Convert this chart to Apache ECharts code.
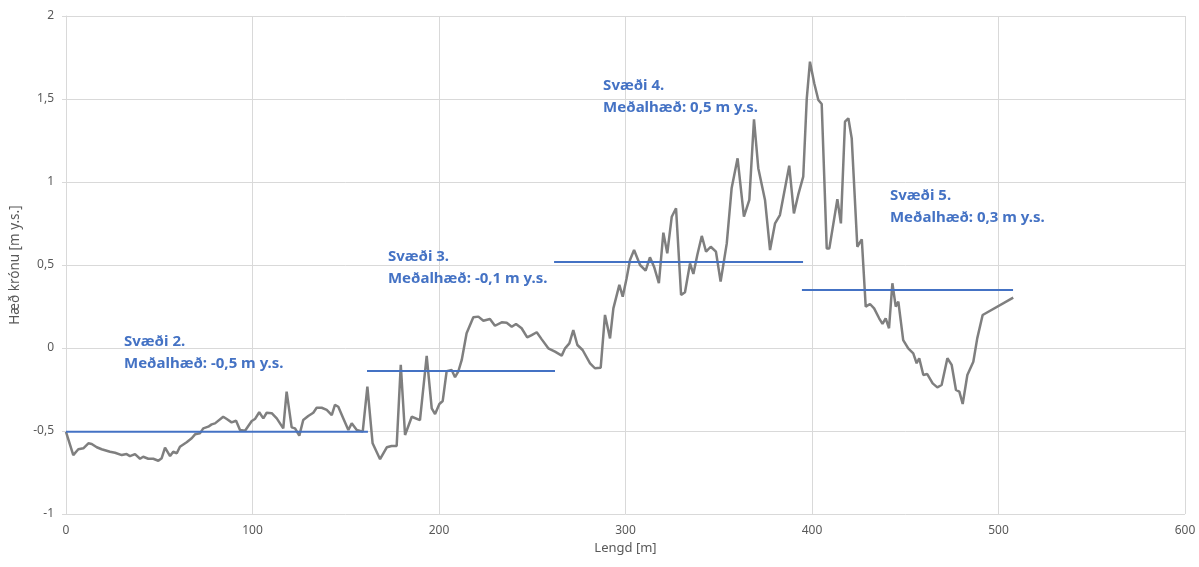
<!DOCTYPE html>
<html>
<head>
<meta charset="utf-8">
<script src="https://cdn.jsdelivr.net/npm/echarts@6/dist/echarts.min.js"></script>
<style>html,body{margin:0;padding:0;background:#fff}#c{width:1199px;height:567px}</style>
</head>
<body>
<div id="c"></div>
<script>
// Profile data: distance (m) and crown elevation (m y.s.)
const lengd = [0,3.9,6.6,9.3,12.0,13.8,16.5,19.1,23.6,26.3,29.9,32.5,34.3,37.0,39.7,41.4,44.1,46.8,49.5,51.3,53.1,55.8,57.5,59.4,61.1,64.7,67.4,69.2,71.8,73.6,76.3,78.1,79.9,84.3,86.2,88.8,91.2,93.3,96.0,99.6,101.3,103.6,105.8,107.6,110.3,113.0,116.5,118.3,121.0,122.8,125.1,127.2,129.9,132.6,134.4,137.1,139.8,142.5,144.2,146.0,148.7,151.4,153.2,155.9,159.1,161.6,164.4,168.4,172.0,174.6,177.3,179.5,181.8,185.4,189.8,193.4,196.1,197.9,200.2,202.0,204.1,206.8,208.6,210.3,212.2,214.8,218.4,221.1,223.8,227.3,230.0,233.6,236.3,239.0,241.3,244.3,247.3,249.7,252.4,255.1,258.6,262.2,265.8,267.6,269.9,272.0,274.2,277.0,281.0,283.6,286.7,289.0,291.7,293.5,296.7,298.5,300.6,302.4,304.6,307.8,310.8,313.1,315.3,317.9,320.3,322.4,324.8,327.1,329.8,331.9,334.6,336.4,338.5,340.9,343.2,345.7,348.5,351.0,354.3,356.9,360.1,363.5,366.4,368.9,371.2,374.8,377.5,380.2,382.8,387.8,390.3,392.6,395.3,397.2,398.9,401.2,403.4,405.2,407.9,409.3,413.6,415.5,417.7,419.5,421.3,424.3,426.7,428.8,431.1,433.3,436.0,437.8,439.5,441.3,443.1,444.9,446.3,448.9,451.6,454.3,456.1,457.5,459.7,461.8,464.7,467.2,469.5,472.6,474.9,477.2,479.0,480.8,483.3,486.5,488.6,491.5,507.9];
const haed = [-0.506,-0.645,-0.61,-0.604,-0.574,-0.578,-0.598,-0.61,-0.625,-0.631,-0.645,-0.639,-0.651,-0.639,-0.667,-0.655,-0.667,-0.667,-0.679,-0.664,-0.60,-0.651,-0.625,-0.634,-0.595,-0.568,-0.544,-0.52,-0.514,-0.484,-0.474,-0.46,-0.454,-0.414,-0.428,-0.448,-0.438,-0.494,-0.498,-0.44,-0.428,-0.387,-0.424,-0.39,-0.393,-0.424,-0.484,-0.263,-0.478,-0.484,-0.528,-0.434,-0.41,-0.39,-0.36,-0.36,-0.373,-0.404,-0.343,-0.354,-0.424,-0.494,-0.454,-0.494,-0.504,-0.233,-0.574,-0.67,-0.598,-0.59,-0.59,-0.102,-0.524,-0.414,-0.434,-0.048,-0.363,-0.398,-0.337,-0.319,-0.14,-0.133,-0.176,-0.143,-0.072,0.089,0.185,0.189,0.164,0.175,0.134,0.155,0.152,0.128,0.145,0.119,0.064,0.078,0.095,0.052,-0.002,-0.022,-0.046,-0.002,0.028,0.108,0.018,-0.012,-0.092,-0.122,-0.119,0.199,0.058,0.239,0.38,0.309,0.42,0.53,0.59,0.5,0.466,0.546,0.49,0.39,0.695,0.57,0.791,0.842,0.319,0.336,0.51,0.446,0.56,0.675,0.58,0.61,0.58,0.40,0.63,0.962,1.143,0.791,0.892,1.378,1.083,0.892,0.59,0.751,0.801,1.098,0.811,0.922,1.032,1.504,1.725,1.595,1.494,1.47,0.60,0.60,0.896,0.751,1.363,1.384,1.263,0.61,0.655,0.249,0.265,0.239,0.179,0.145,0.179,0.119,0.39,0.249,0.279,0.048,-0.002,-0.032,-0.092,-0.062,-0.163,-0.157,-0.213,-0.237,-0.223,-0.062,-0.102,-0.253,-0.263,-0.337,-0.163,-0.083,0.058,0.199,0.303];

// Zones (Svæði) with mean elevation lines
const svaediNafn = ['Svæði 2.', 'Svæði 3.', 'Svæði 4.', 'Svæði 5.'];
const svaediTexti = ['Meðalhæð: -0,5 m y.s.', 'Meðalhæð: -0,1 m y.s.', 'Meðalhæð: 0,5 m y.s.', 'Meðalhæð: 0,3 m y.s.'];
const svaediByrjun = [0, 161.4, 261.7, 394.6];
const svaediEndir = [161.9, 262.2, 395.2, 507.8];
const svaediMedal = [-0.505, -0.139, 0.518, 0.349];

// Tick values
const xTicks = [0, 100, 200, 300, 400, 500, 600];
const yTicks = [-1, -0.5, 0, 0.5, 1, 1.5, 2];

// Annotation anchor positions (layout, in data units)
const labelAnchorX = [31.1, 172.6, 288.0, 441.8];
const labelAnchorY = [-0.027, 0.482, 1.512, 0.849];

const BLUE = '#4472C4';
const FONT = 'Noto Sans';

const series = [{
  type: 'line',
  data: lengd.map((x, i) => [x, haed[i]]),
  showSymbol: false,
  lineStyle: { color: '#7f7f7f', width: 2.5 },
  z: 2,
  silent: true
}];
svaediNafn.forEach((n, i) => {
  series.push({
    type: 'line',
    data: [[svaediByrjun[i], svaediMedal[i]], [svaediEndir[i], svaediMedal[i]]],
    showSymbol: false,
    lineStyle: { color: BLUE, width: 2 },
    z: 3,
    silent: true
  });
  series.push({
    type: 'scatter',
    data: [[labelAnchorX[i], labelAnchorY[i]]],
    symbolSize: 0,
    silent: true,
    itemStyle: { color: BLUE, opacity: 1 },
    label: {
      show: true,
      position: 'right',
      distance: 0,
      formatter: n + '\n' + svaediTexti[i],
      color: BLUE,
      opacity: 1,
      fontWeight: 'bold',
      fontSize: 15,
      fontFamily: FONT,
      lineHeight: 22,
      align: 'left'
    }
  });
});

const fmt = v => String(v).replace('.', ',');

const chart = echarts.init(document.getElementById('c'), null, { renderer: 'canvas' });
chart.setOption({
  animation: false,
  backgroundColor: '#fff',
  grid: { left: 66, right: 14, top: 16, bottom: 53, containLabel: false },
  xAxis: {
    type: 'value', min: xTicks[0], max: xTicks[xTicks.length - 1], interval: 100,
    name: 'Lengd [m]', nameLocation: 'middle', nameGap: 28,
    nameTextStyle: { color: '#595959', fontSize: 13, fontFamily: FONT },
    axisLine: { show: false }, axisTick: { show: false },
    axisLabel: { color: '#595959', fontSize: 12, fontFamily: FONT, margin: 11, formatter: fmt },
    splitLine: { show: true, lineStyle: { color: '#d9d9d9', width: 1 } }
  },
  yAxis: {
    type: 'value', min: yTicks[0], max: yTicks[yTicks.length - 1], interval: 0.5,
    name: 'Hæð krónu [m y.s.]', nameLocation: 'middle', nameGap: 44, nameRotate: 90,
    nameTextStyle: { color: '#595959', fontSize: 13.5, fontFamily: FONT },
    axisLine: { show: true, lineStyle: { color: '#d9d9d9', width: 1 } },
    axisTick: { show: true, length: 4, lineStyle: { color: '#d9d9d9' } },
    axisLabel: { color: '#595959', fontSize: 12, fontFamily: FONT, margin: 12, formatter: fmt },
    splitLine: { show: true, lineStyle: { color: '#d9d9d9', width: 1 } }
  },
  series: series
});
</script>
</body>
</html>
